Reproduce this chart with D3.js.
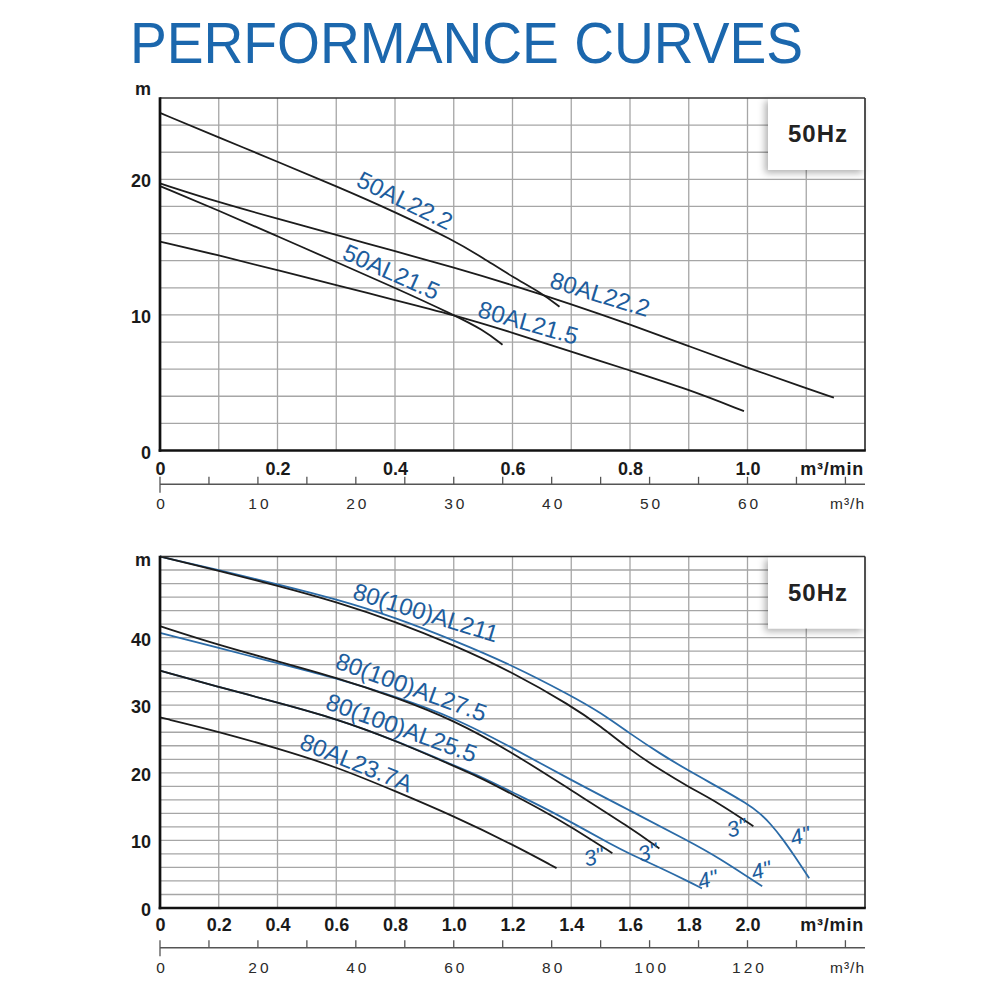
<!DOCTYPE html>
<html><head><meta charset="utf-8">
<script src="https://cdn.jsdelivr.net/npm/d3@7"></script>
<style>
body{margin:0;background:#fff;}
svg{display:block;font-family:"Liberation Sans",Arial,Helvetica,sans-serif;}
</style></head><body>
<svg id="c" width="1000" height="1000"></svg>
<script>
// ---------- DATA (flow in m³/min, head in m) ----------
const titleText = "PERFORMANCE CURVES";

// top panel
const topFlowTicks = [0, 0.2, 0.4, 0.6, 0.8, 1.0];
const topFlowLabels = ["0", "0.2", "0.4", "0.6", "0.8", "1.0"];
const topHeadTicks = [0, 10, 20];
const topHourTicks = [0, 10, 20, 30, 40, 50, 60];

const s50AL22_2 = [[0,24.9],[0.1,23.1],[0.2,21.3],[0.3,19.5],[0.4,17.6],[0.5,15.5],[0.55,14.2],[0.6,12.8],[0.65,11.6],[0.68,10.6]];
const s80AL22_2 = [[0,19.7],[0.1,18.3],[0.2,17.1],[0.3,15.9],[0.4,14.7],[0.5,13.5],[0.6,12.2],[0.7,10.8],[0.8,9.3],[0.9,7.7],[1.0,6.1],[1.1,4.6],[1.147,3.9]];
const s50AL21_5 = [[0,19.5],[0.1,17.7],[0.2,15.8],[0.3,13.9],[0.4,12.0],[0.5,10.0],[0.55,8.9],[0.583,7.8]];
const s80AL21_5 = [[0,15.4],[0.1,14.4],[0.2,13.3],[0.3,12.2],[0.4,11.1],[0.5,10.0],[0.6,8.7],[0.7,7.3],[0.8,5.9],[0.9,4.5],[0.994,2.9]];

const topSeriesNames = ["50AL22.2", "80AL22.2", "50AL21.5", "80AL21.5"];
// label anchors in data units [q, h, rotation°]
const topLabelAnchors = [[0.417,18.45,26],[0.749,11.55,17],[0.394,13.2,24],[0.627,9.45,16]];

// bottom panel
const botFlowTicks = [0, 0.2, 0.4, 0.6, 0.8, 1.0, 1.2, 1.4, 1.6, 1.8, 2.0];
const botFlowLabels = ["0","0.2","0.4","0.6","0.8","1.0","1.2","1.4","1.6","1.8","2.0"];
const botHeadTicks = [0, 10, 20, 30, 40];
const botHourTicks = [0, 20, 40, 60, 80, 100, 120];

const b211_4 = [[0,52],[0.2,50.0],[0.4,47.9],[0.6,45.7],[0.8,43.0],[1.0,39.6],[1.2,35.9],[1.4,31.4],[1.5,28.9],[1.6,25.8],[1.7,22.9],[1.8,20.3],[1.9,17.9],[2.0,15.4],[2.04,14.1],[2.08,12.4],[2.12,10.2],[2.16,7.7],[2.21,4.4]];
const b211_3 = [[0,52],[0.2,49.9],[0.4,47.7],[0.6,45.3],[0.8,42.4],[1.0,38.9],[1.2,34.9],[1.4,29.9],[1.5,26.9],[1.6,23.4],[1.7,20.5],[1.8,17.9],[1.9,15.6],[2.02,12.1]];
const b275_4 = [[0,40.7],[0.2,38.5],[0.4,36.2],[0.6,34.0],[0.8,31.3],[1.0,28.2],[1.2,23.7],[1.4,18.9],[1.6,14.4],[1.8,9.9],[1.9,7.5],[2.05,3.2]];
const b275_3 = [[0,41.7],[0.2,38.9],[0.4,36.5],[0.6,34.1],[0.8,31.2],[1.0,27.8],[1.2,23.0],[1.4,17.4],[1.6,11.9],[1.7,8.8]];
const b255_4 = [[0,35.1],[0.2,32.7],[0.4,30.4],[0.6,28.0],[0.8,24.8],[1.0,21.1],[1.1,19.3],[1.2,17.1],[1.3,15.0],[1.4,12.7],[1.54,9.3],[1.6,8.0],[1.7,6.0],[1.8,3.9],[1.845,2.9]];
const b255_3 = [[0,35.1],[0.2,32.7],[0.4,30.4],[0.6,28.0],[0.8,24.8],[1.0,21.0],[1.1,19.1],[1.2,16.8],[1.3,14.5],[1.4,12.0],[1.54,8.1]];
const b237A = [[0,28.2],[0.2,26.1],[0.4,23.6],[0.6,20.9],[0.8,17.3],[1.0,13.6],[1.2,9.4],[1.35,5.9]];

const botSeriesNames = ["80(100)AL211", "80(100)AL27.5", "80(100)AL25.5", "80AL23.7A"];
const botLabelAnchors = [[0.905,43.74,17],[0.856,32.74,20],[0.823,26.7,20],[0.669,21.52,22]];
const pipeLabels = ['3"', '3"', '3"', '4"', '4"', '4"'];
const pipeAnchors = [[1.477,7.62],[1.661,8.28],[1.963,11.91],[1.864,4.29],[2.046,5.62],[2.179,10.72]];

// ---------- DRAWING ----------
const BLACK = "#1c1c1c", BLUE = "#2b6ba7", TXTBLUE = "#1d5d9d";
const svg = d3.select("#c");
const defs = svg.append("defs");
const flt = defs.append("filter").attr("id","sh").attr("x","-40%").attr("y","-40%").attr("width","180%").attr("height","180%");
flt.append("feDropShadow").attr("dx",-3).attr("dy",3).attr("stdDeviation",3.5).attr("flood-color","#000").attr("flood-opacity",0.3);

svg.append("text").attr("x",130).attr("y",63).attr("font-size",57)
  .attr("textLength",673).attr("lengthAdjust","spacingAndGlyphs")
  .attr("fill","#1b67ad").text(titleText);

function panel(cfg){
  const x = d3.scaleLinear().domain([0,cfg.qMax]).range([160,865]);
  const y = d3.scaleLinear().domain([0,cfg.hMax]).range([cfg.yBottom,cfg.yTop]);
  const xh = d3.scaleLinear().domain([0,cfg.qMax*60]).range([160,865]);
  const g = svg.append("g");

  // grid
  const vg = d3.range(1, cfg.nV).map(i=>i*cfg.qStep);
  const hg = d3.range(1, cfg.nH).map(i=>i*2);
  g.append("g").selectAll("line").data(vg).join("line")
    .attr("x1",d=>x(d)).attr("x2",d=>x(d)).attr("y1",y(0)).attr("y2",y(cfg.hMax))
    .attr("stroke","#a6a6a6").attr("stroke-width",1.3);
  g.append("g").selectAll("line").data(hg).join("line")
    .attr("x1",x(0)).attr("x2",x(cfg.qMax)).attr("y1",d=>y(d)).attr("y2",d=>y(d))
    .attr("stroke","#a6a6a6").attr("stroke-width",1.3);

  // curves
  const line = d3.line().x(d=>x(d[0])).y(d=>y(d[1])).curve(d3.curveBasis);
  g.append("g").selectAll("path").data(cfg.series).join("path")
    .attr("d",d=>line(d.pts)).attr("fill","none")
    .attr("stroke",d=>d.color).attr("stroke-width",1.8).attr("stroke-linejoin","round");

  // curve labels
  g.append("g").selectAll("text").data(cfg.labels).join("text")
    .attr("transform",d=>`translate(${x(d.a[0])},${y(d.a[1])}) rotate(${d.a[2]})`)
    .attr("text-anchor","middle").attr("dy","0.36em")
    .attr("font-size",d=>d.size).attr("fill",TXTBLUE).text(d=>d.t);

  // 50Hz box
  g.append("rect").attr("x",768).attr("y",y(cfg.hMax)).attr("width",97).attr("height",72)
    .attr("fill","#fff").attr("filter","url(#sh)");
  g.append("text").attr("x",818).attr("y",y(cfg.hMax)+44).attr("text-anchor","middle")
    .attr("font-size",24).attr("font-weight","bold").attr("letter-spacing",1).attr("fill","#222").text("50Hz");

  // frame
  g.append("line").attr("x1",x(0)).attr("x2",x(cfg.qMax)).attr("y1",y(cfg.hMax)).attr("y2",y(cfg.hMax)).attr("stroke","#333").attr("stroke-width",1.7);
  g.append("line").attr("x1",x(cfg.qMax)).attr("x2",x(cfg.qMax)).attr("y1",y(cfg.hMax)).attr("y2",y(0)).attr("stroke","#333").attr("stroke-width",1.7);
  g.append("line").attr("x1",x(0)).attr("x2",x(0)).attr("y1",y(cfg.hMax)-0.8).attr("y2",y(0)+1.3).attr("stroke","#111").attr("stroke-width",2.7);
  g.append("line").attr("x1",x(0)-1.3).attr("x2",x(cfg.qMax)+0.8).attr("y1",y(0)).attr("y2",y(0)).attr("stroke","#111").attr("stroke-width",2.7);

  // primary x axis labels
  const ax = g.append("g").attr("transform",`translate(0,${y(0)})`)
    .call(d3.axisBottom(x).tickValues(cfg.flowTicks).tickFormat((d,i)=>cfg.flowLabels[i]).tickSize(0).tickPadding(cfg.xPad));
  ax.select(".domain").remove();
  ax.selectAll("text").attr("font-size",18).attr("font-weight","bold").attr("fill","#1a1a1a").attr("font-family",null);
  g.append("text").attr("x",864).attr("y",y(0)+cfg.xPad+13).attr("text-anchor","end")
    .attr("font-size",18).attr("font-weight","bold").attr("letter-spacing",0.8).attr("fill","#1a1a1a").text("m³/min");

  // y axis labels
  const ay = g.append("g").attr("transform",`translate(${x(0)},0)`)
    .call(d3.axisLeft(y).tickValues(cfg.headTicks).tickFormat(d3.format("d")).tickSize(0).tickPadding(9));
  ay.select(".domain").remove();
  ay.selectAll("text").attr("font-size",18).attr("font-weight","bold").attr("fill","#1a1a1a").attr("dy","0.42em").attr("font-family",null);
  g.append("text").attr("x",143).attr("y",cfg.mY).attr("text-anchor","middle")
    .attr("font-size",18).attr("font-weight","bold").attr("fill","#1a1a1a").text("m");

  // secondary axis m³/h
  const ys = cfg.ySec;
  g.append("line").attr("x1",160).attr("x2",865).attr("y1",ys).attr("y2",ys).attr("stroke","#555").attr("stroke-width",1.4);
  const minor = d3.range(0, cfg.nSec+1).map(i=>i*cfg.secStep);
  g.append("g").selectAll("line").data(minor).join("line")
    .attr("x1",d=>xh(d)).attr("x2",d=>xh(d)).attr("y1",ys-7.5).attr("y2",d=>d===0?ys+8.5:ys)
    .attr("stroke","#555").attr("stroke-width",1.3);
  g.append("g").selectAll("text").data(cfg.hourTicks).join("text")
    .attr("x",d=>xh(d)+2).attr("y",ys+25).attr("text-anchor","middle")
    .attr("font-size",15.5).attr("letter-spacing",3).attr("fill","#2a2a2a").text(d=>d);
  g.append("text").attr("x",865).attr("y",ys+25).attr("text-anchor","end")
    .attr("font-size",15.5).attr("letter-spacing",1).attr("fill","#2a2a2a").text("m³/h");

  if (cfg.pipe){
    g.append("g").selectAll("text").data(cfg.pipe).join("text")
      .attr("transform",d=>`translate(${x(d.a[0])},${y(d.a[1])}) rotate(-15)`)
      .attr("text-anchor","middle").attr("dy","0.36em").attr("font-size",22).attr("font-style","italic")
      .attr("fill",TXTBLUE).text(d=>d.t);
  }
}

panel({
  qMax:1.2, hMax:26, yBottom:450.5, yTop:98, qStep:0.1, nV:12, nH:13,
  flowTicks:topFlowTicks, flowLabels:topFlowLabels, headTicks:topHeadTicks, hourTicks:topHourTicks,
  xPad:11.5, mY:95, ySec:484.3, secStep:5, nSec:14,
  series:[
    {pts:s50AL22_2,color:BLACK},{pts:s80AL22_2,color:BLACK},
    {pts:s50AL21_5,color:BLACK},{pts:s80AL21_5,color:BLACK}
  ],
  labels: topSeriesNames.map((t,i)=>({t, a:topLabelAnchors[i], size:24}))
});

panel({
  qMax:2.4, hMax:52, yBottom:908, yTop:556.5, qStep:0.2, nV:12, nH:26,
  flowTicks:botFlowTicks, flowLabels:botFlowLabels, headTicks:botHeadTicks, hourTicks:botHourTicks,
  xPad:10, mY:566, ySec:947.7, secStep:10, nSec:14,
  series:[
    {pts:b211_4,color:BLUE},{pts:b211_3,color:BLACK},
    {pts:b275_4,color:BLUE},{pts:b275_3,color:BLACK},
    {pts:b255_4,color:BLUE},{pts:b255_3,color:BLACK},
    {pts:b237A,color:BLACK}
  ],
  labels: botSeriesNames.map((t,i)=>({t, a:botLabelAnchors[i], size:24})),
  pipe: pipeLabels.map((t,i)=>({t, a:pipeAnchors[i]}))
});
</script>
</body></html>
